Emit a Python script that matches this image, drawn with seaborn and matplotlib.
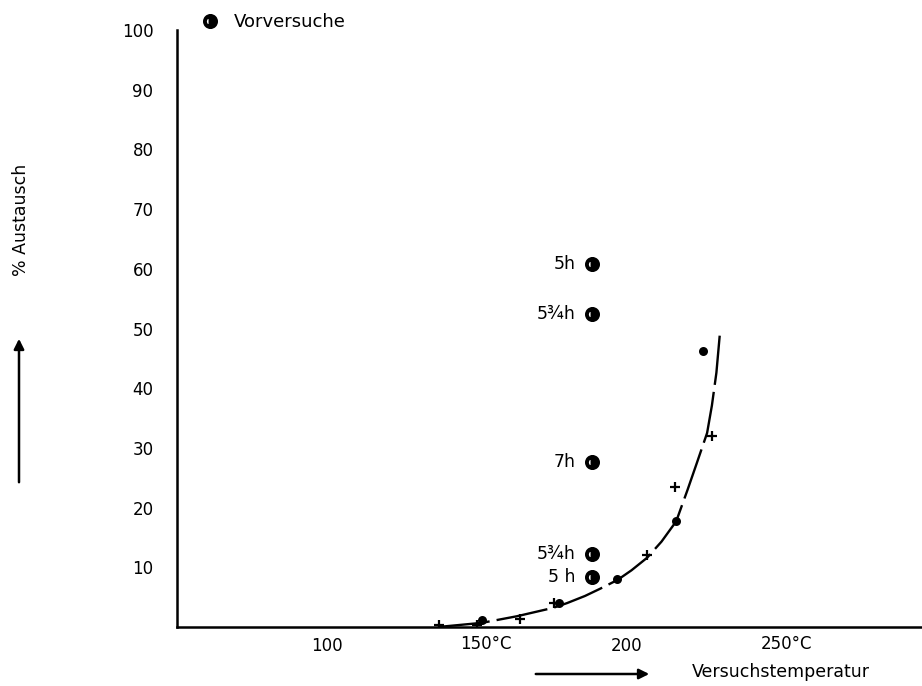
import matplotlib
matplotlib.use("Agg")
import matplotlib.pyplot as plt
import matplotlib.transforms as mtransforms
import seaborn as sns

# ---- data ----
# preliminary experiments (Vorversuche), all at ~188 °C
vor_x = [188.3, 188.3, 188.3, 188.3, 188.3]
vor_y = [60.8, 52.4, 27.7, 12.2, 8.3]
vor_labels = ["5h", "5¾h", "7h", "5¾h", "5 h"]

# filled dots
dot_x = [151.7, 177.2, 196.5, 216.4, 225.2]
dot_y = [1.2, 4.1, 8.0, 17.8, 46.3]

# plus markers
plus_x = [137.2, 150.0, 164.4, 175.5, 206.8, 216.0, 228.4]
plus_y = [0.3, 0.3, 1.3, 4.1, 12.0, 23.5, 32.0]

# hand-drawn curve
curve_x = [137.0, 151.7, 163.3, 175.3, 180.0, 186.0, 191.0, 196.9, 201.5, 206.7,
           211.5, 216.4, 220.2, 223.3, 226.7, 228.3, 229.8, 230.9]
curve_y = [0.0, 0.7, 1.8, 3.2, 4.0, 5.2, 6.4, 7.9, 9.5, 11.6,
           14.3, 17.7, 23.0, 27.5, 32.5, 37.1, 42.6, 48.8]

x_ticks = [100, 150, 200, 250]
x_ticklabels = ["100", "150°C", "200", "250°C"]
y_ticks = [10, 20, 30, 40, 50, 60, 70, 80, 90, 100]
y_ticklabels = [str(v) for v in y_ticks]

sns.set_theme(style="white")
plt.rcParams["font.family"] = ["DejaVu Sans"]
plt.rcParams["text.color"] = "black"

W, H = 922, 686
fig = plt.figure(figsize=(W / 100, H / 100), dpi=100)
fig.patch.set_facecolor("white")
ax = fig.add_axes([177 / W, 59 / H, 1 - 177 / W, (627 - 30) / H])
ax.set_facecolor("white")

# curve
sns.lineplot(x=curve_x, y=curve_y, estimator=None, sort=False, color="black",
             linewidth=1.7, linestyle=(0, (22, 3)), ax=ax)

# dots
sns.scatterplot(x=dot_x, y=dot_y, color="black", marker="o", s=42,
                edgecolor="black", linewidth=0, ax=ax, zorder=3)

# plus markers
sns.scatterplot(x=plus_x, y=plus_y, color="black", marker="+", s=45,
                linewidth=1.6, ax=ax, zorder=3)

# Vorversuche
sns.lineplot(x=vor_x, y=vor_y, estimator=None, sort=False, color="black",
             linestyle="", marker="o", markersize=8, fillstyle="right",
             markerfacecolor="black", markerfacecoloralt="white",
             markeredgecolor="black", markeredgewidth=2.8,
             label="Vorversuche", ax=ax)

for xv, yv, lab in zip(vor_x, vor_y, vor_labels):
    ax.annotate(lab, xy=(xv, yv), xytext=(-12, 0), textcoords="offset points",
                ha="right", va="center", fontsize=12.5, color="black")

ax.set_xlim(50, 50 + (W - 177) / 3.0)
ax.set_ylim(0, 100)
ax.set_xticks(x_ticks)
ax.set_xticklabels(x_ticklabels)
ax.set_yticks(y_ticks)
ax.set_yticklabels(y_ticklabels)
ax.tick_params(axis="both", which="major", direction="out", length=3, width=1.2,
               color="black", labelsize=12, labelcolor="black")
ax.tick_params(axis="y", pad=14)
ax.tick_params(axis="x", pad=4)

# shift the "°C" labels so the number sits on the tick
for lbl in ax.get_xticklabels():
    if "°C" in lbl.get_text():
        lbl.set_transform(lbl.get_transform() +
                          mtransforms.ScaledTranslation(9 / 100, 2 / 100, fig.dpi_scale_trans))

for side in ["top", "right"]:
    ax.spines[side].set_visible(False)
for side in ["left", "bottom"]:
    ax.spines[side].set_color("black")
    ax.spines[side].set_linewidth(1.8)
ax.grid(False)
ax.set_xlabel("")
ax.set_ylabel("")

leg = ax.legend(loc="center left", bbox_to_anchor=(201 / W, 1 - 22 / H),
                bbox_transform=fig.transFigure, frameon=False, fontsize=13,
                handlelength=1.0, handletextpad=0.8, borderpad=0, borderaxespad=0,
                labelcolor="black")

# axis titles with arrows
fig.text(21 / W, 1 - 220 / H, "% Austausch", rotation=90, ha="center", va="center",
         fontsize=12.5, color="black")
fig.add_artist(matplotlib.patches.FancyArrowPatch(
    (19 / W, 1 - 485 / H), (19 / W, 1 - 336 / H), transform=fig.transFigure,
    arrowstyle="-|>,head_length=6,head_width=3", mutation_scale=1, color="black",
    linewidth=1.8))

fig.text(781 / W, 1 - 672 / H, "Versuchstemperatur", ha="center", va="center",
         fontsize=12.5, color="black")
fig.add_artist(matplotlib.patches.FancyArrowPatch(
    (533 / W, 1 - 674 / H), (652 / W, 1 - 674 / H), transform=fig.transFigure,
    arrowstyle="-|>,head_length=6,head_width=3", mutation_scale=1, color="black",
    linewidth=1.8))

fig.savefig("out.png", dpi=100, facecolor="white")
